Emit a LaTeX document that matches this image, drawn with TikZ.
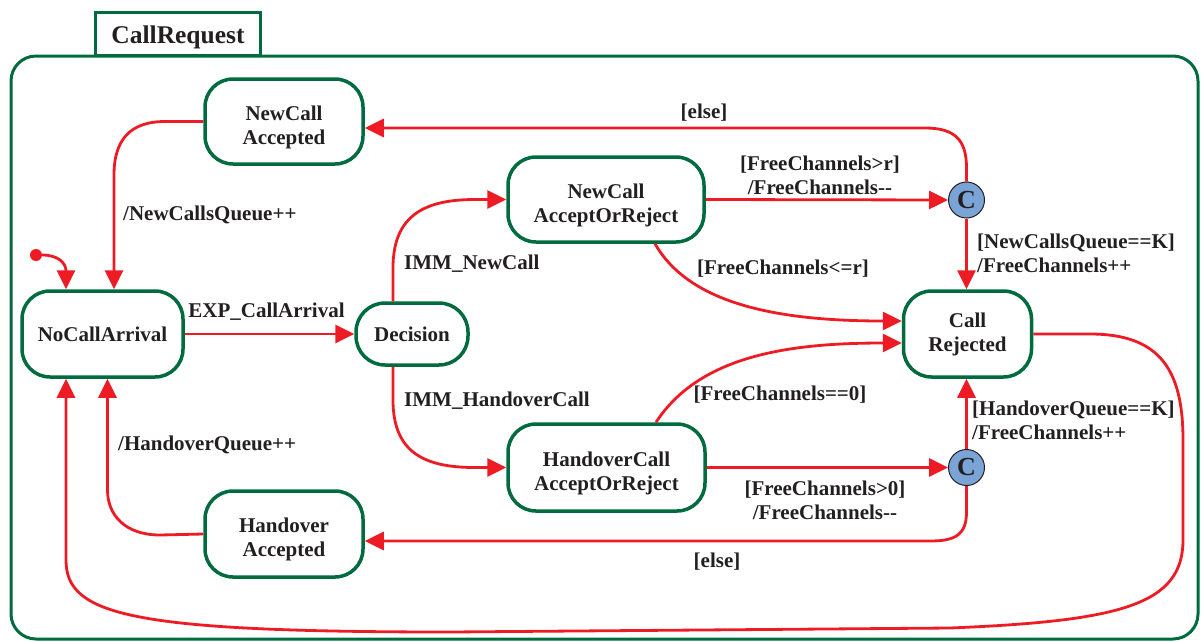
\documentclass[tikz,border=0pt]{standalone}
\usepackage{fontspec}
\setmainfont{Liberation Serif}
\usetikzlibrary{arrows.meta}
\definecolor{stgreen}{RGB}{0,107,63}
\definecolor{trred}{RGB}{237,28,36}
\definecolor{inkgray}{RGB}{35,31,32}
\definecolor{choicefill}{RGB}{122,163,214}
% tall invisible strut that lowers the first line of a state name
\newcommand{\lowstrut}{\rule{0pt}{26pt}}
\tikzset{
  state/.style={draw=stgreen, line width=3.5pt, rounded corners=28pt, fill=white,
    align=center, font=\fontsize{21}{24}\selectfont\bfseries, text=inkgray, inner sep=0pt},
  choice/.style={circle, draw=inkgray, line width=1pt, fill=choicefill, minimum size=36pt,
    inner sep=0pt, font=\fontsize{26}{26}\selectfont\bfseries, text=inkgray},
  trans/.style={draw=trred, line width=2.8pt, -{Triangle[length=19pt,width=18pt]}},
  lbl/.style={font=\fontsize{21}{24}\selectfont\bfseries, text=inkgray, inner sep=0pt},
}
\begin{document}
\begin{tikzpicture}[x=1pt, y=-1pt]
\useasboundingbox (0,0) rectangle (1202,641);

% composite state frame and its name tab
\node[draw=stgreen, line width=3pt, rounded corners=25pt, minimum width=1187pt,
      minimum height=583pt, inner sep=0pt] (frame) at (604.5,347.5) {};
\node[draw=stgreen, line width=3pt, fill=white, minimum width=165pt, minimum height=43pt,
      inner sep=0pt, text height=22pt, text depth=2pt,
      font=\fontsize{25.5}{26}\selectfont\bfseries, text=inkgray]
      (title) at (178,33.5) {CallRequest};

% states
\node[state, minimum width=158pt, minimum height=85pt] (nca) at (284,121.5) {\lowstrut NewCall\\Accepted};
\node[state, minimum width=161pt, minimum height=86pt] (nocall) at (102.5,334) {NoCallArrival};
\node[state, minimum width=112pt, minimum height=62pt, rounded corners=29pt] (dec) at (412,334) {Decision};
\node[state, minimum width=196pt, minimum height=85pt] (nar) at (606,199.5) {\lowstrut NewCall\\AcceptOrReject};
\node[state, minimum width=128pt, minimum height=86pt] (rej) at (967.5,334) {Call\\Rejected};
\node[state, minimum width=197pt, minimum height=87pt] (har) at (606.5,467.5) {\lowstrut HandoverCall\\AcceptOrReject};
\node[state, minimum width=158pt, minimum height=86pt] (ha) at (284,534) {\lowstrut Handover\\Accepted};

% choice points
\node[choice] (ctop) at (966.5,200) {C};
\node[choice] (cbot) at (966.5,467.5) {C};

% initial pseudostate
\node[circle, fill=trred, minimum size=12pt, inner sep=0pt] (init) at (36,255) {};

% transitions
\draw[trans] (init.east) .. controls (58,255) and (66,263) .. ([xshift=-36.5pt]nocall.north);
\draw[trans] (nca.west) -- (165,121.5) .. controls (130,121.5) and (114,140) .. (114,175)
  -- ([xshift=11.5pt]nocall.north);
\draw[trans] (nocall.east) -- (dec.west);
\draw[trans] ([xshift=-19pt]dec.north) -- (393,268) .. controls (393,215) and (425,199.5)
  .. (475,199.5) -- (nar.west);
\draw[trans] ([xshift=-19pt]dec.south) -- (393,400) .. controls (393,453) and (425,467.5)
  .. (475,467.5) -- (har.west);
\draw[trans] (nar.east) -- (ctop.west);
\draw[trans] (ctop.north) -- (966.5,168) .. controls (966.5,140) and (955,128) .. (925,128)
  -- ([yshift=-6.5pt]nca.east);
\draw[trans] (ctop.south) -- (rej.north -| ctop.south);
\draw[trans] ([xshift=49pt]nar.south) .. controls (690,305) and (780,321)
  .. ([yshift=13pt]rej.west);
\draw[trans] ([xshift=49.5pt]har.north) .. controls (700,355) and (790,343)
  .. ([yshift=-9pt]rej.west);
\draw[trans] (har.east) -- (cbot.west);
\draw[trans] (cbot.north) -- (rej.south -| cbot.north);
\draw[trans] (cbot.south) -- (966.5,512) .. controls (966.5,535) and (955,541) .. (930,541)
  -- ([yshift=-7pt]ha.east);
\draw[trans] (ha.west) -- (160,535) .. controls (125,535) and (107.5,515) .. (107.5,490)
  -- ([xshift=5pt]nocall.south);
\draw[trans] (rej.east) -- (1090,334) .. controls (1160,334) and (1183,370) .. (1183,440)
  -- (1183,540) .. controls (1183,605) and (1120,621) .. (950,628)
  -- (450,632) .. controls (130,632) and (66,615) .. (66,560)
  -- ([xshift=-36.5pt]nocall.south);

% transition labels
\node[lbl] (lexp) at (266.5,312) {EXP\_CallArrival};
\node[lbl, anchor=west] (lnq) at (123,215) {/NewCallsQueue++};
\node[lbl, anchor=west] (lhq) at (118,445) {/HandoverQueue++};
\node[lbl, anchor=west] (limmn) at (404,264) {IMM\_NewCall};
\node[lbl, anchor=west] (limmh) at (404,401) {IMM\_HandoverCall};
\node[lbl] (lelse1) at (704,113) {[else]};
\node[lbl, align=center] (lfcr) at (820,175) {[FreeChannels>r]\\/FreeChannels-{}-};
\node[lbl] (lfcle) at (783,269) {[FreeChannels<=r]};
\node[lbl, anchor=west, align=left] (lnqk) at (977,253) {[NewCallsQueue==K]\\/FreeChannels++};
\node[lbl] (lfc0) at (780,395) {[FreeChannels==0]};
\node[lbl, anchor=west, align=left] (lhqk) at (972,420) {[HandoverQueue==K]\\/FreeChannels++};
\node[lbl, align=center] (lfcg) at (825,500) {[FreeChannels>0]\\/FreeChannels-{}-};
\node[lbl] (lelse2) at (717,562) {[else]};
\end{tikzpicture}
\end{document}
